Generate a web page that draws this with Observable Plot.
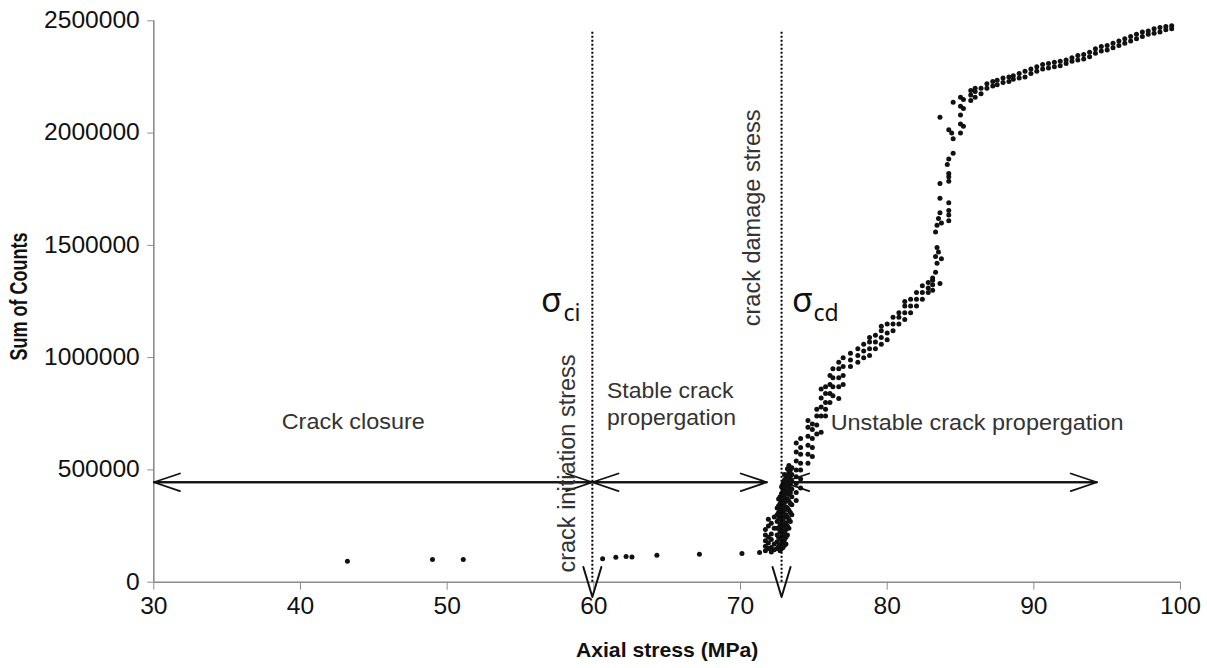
<!DOCTYPE html>
<html><head><meta charset="utf-8">
<script src="https://cdn.jsdelivr.net/npm/d3@7"></script>
<script src="https://cdn.jsdelivr.net/npm/@observablehq/plot@0.6"></script>
<style>body{margin:0;background:#fff} #chart svg{display:block}</style>
</head><body><div id="chart"></div>
<script>
// ---- data ----
const xTicks = [30, 40, 50, 60, 70, 80, 90, 100];
const yTicks = [0, 500000, 1000000, 1500000, 2000000, 2500000];
const xTitle = "Axial stress (MPa)";
const yTitle = "Sum of Counts";

// [axial stress (MPa), cumulative sum of counts]
const aePoints = [
 [43.2,93500],[49.0,101000],[51.1,101000],
 [60.6,104000],[61.5,111000],[62.2,114000],[62.6,112000],[64.3,120000],[67.2,124000],[70.1,128000],[71.3,132000],
 [71.7,140000],[71.7,160000],[71.7,185000],[71.7,210000],[71.7,235000],
 [71.9,150000],[71.9,175000],[71.9,200000],[71.9,250000],[71.9,280000],
 [72.1,135000],[72.1,155000],[72.1,190000],[72.1,215000],[72.1,262000],
 [72.3,145000],[72.3,170000],[72.3,240000],[72.3,290000],
 [72.5,150000],[72.5,180000],[72.5,210000],[72.5,240000],[72.5,270000],[72.5,300000],[72.5,330000],
 [72.6,160000],[72.6,200000],[72.6,240000],[72.6,280000],[72.6,310000],[72.6,340000],[72.6,370000],
 [72.7,140000],[72.7,165000],[72.7,195000],[72.7,225000],[72.7,255000],[72.7,290000],[72.7,320000],[72.7,350000],[72.7,380000],
 [72.8,150000],[72.8,175000],[72.8,205000],[72.8,235000],[72.8,265000],[72.8,300000],[72.8,330000],[72.8,360000],[72.8,395000],[72.8,425000],
 [72.9,155000],[72.9,185000],[72.9,215000],[72.9,250000],[72.9,280000],[72.9,310000],[72.9,345000],[72.9,375000],[72.9,410000],[72.9,440000],
 [73.0,165000],[73.0,190000],[73.0,225000],[73.0,255000],[73.0,290000],[73.0,320000],[73.0,355000],[73.0,385000],[73.0,420000],[73.0,455000],[73.0,480000],
 [73.1,170000],[73.1,200000],[73.1,235000],[73.1,265000],[73.1,300000],[73.1,335000],[73.1,365000],[73.1,400000],[73.1,430000],[73.1,470000],
 [73.2,210000],[73.2,250000],[73.2,290000],[73.2,330000],[73.2,370000],[73.2,405000],[73.2,440000],[73.2,475000],[73.2,505000],
 [73.3,240000],[73.3,280000],[73.3,320000],[73.3,360000],[73.3,390000],[73.3,420000],[73.3,455000],[73.3,490000],[73.3,520000],
 [73.4,270000],[73.4,310000],[73.4,350000],[73.4,400000],[73.4,435000],[73.4,470000],[73.4,500000],
 [73.5,300000],[73.5,345000],[73.5,380000],[73.5,415000],[73.5,450000],[73.5,480000],[73.5,510000],
 [73.8,364000],[73.8,400000],[73.8,440000],[73.8,470000],[73.8,500000],[73.8,540000],[73.8,580000],[73.8,620000],
 [74.1,420000],[74.1,460000],[74.1,500000],[74.1,530000],[74.1,570000],[74.1,600000],[74.1,640000],
 [74.6,530000],[74.6,570000],[74.6,610000],[74.6,650000],[74.6,690000],[74.6,720000],
 [74.9,560000],[74.9,600000],[74.9,640000],[74.9,680000],[74.9,705000],
 [75.2,660000],[75.2,700000],[75.2,740000],[75.2,770000],
 [75.5,668000],[75.5,740000],[75.5,780000],[75.5,820000],[75.5,860000],
 [75.8,740000],[75.8,770000],[75.8,800000],[75.8,840000],[75.8,870000],
 [76.1,800000],[76.1,840000],[76.1,880000],[76.1,920000],
 [76.3,830000],[76.3,870000],[76.3,910000],[76.3,950000],
 [76.7,818000],[76.7,870000],[76.7,910000],[76.7,950000],[76.7,980000],
 [77.0,880000],[77.0,920000],[77.0,960000],[77.0,1000000],
 [77.5,960000],[77.5,990000],[77.5,1020000],
 [78.0,980000],[78.0,1010000],[78.0,1040000],
 [78.4,1000000],[78.4,1030000],[78.4,1060000],
 [78.8,1010000],[78.8,1040000],[78.8,1070000],[78.8,1090000],
 [79.2,1040000],[79.2,1070000],[79.2,1100000],
 [79.6,1060000],[79.6,1090000],[79.6,1120000],[79.6,1140000],
 [80.0,1080000],[80.0,1110000],[80.0,1150000],
 [80.4,1120000],[80.4,1150000],[80.4,1180000],
 [80.8,1150000],[80.8,1180000],[80.8,1200000],
 [81.2,1170000],[81.2,1200000],[81.2,1230000],[81.2,1250000],
 [81.6,1200000],[81.6,1230000],[81.6,1260000],
 [82.0,1230000],[82.0,1260000],[82.0,1290000],
 [82.4,1260000],[82.4,1290000],[82.4,1320000],
 [82.8,1290000],[82.8,1310000],[82.8,1335000],
 [83.1,1300000],[83.1,1325000],[83.1,1345000],[83.1,1355000],
 [83.6,1330000],
 [83.3,1380000],[83.4,1420000],[83.3,1450000],[83.5,1470000],[83.4,1490000],[83.7,1440000],
 [83.3,1560000],[83.4,1590000],[83.5,1620000],[83.6,1645000],[83.7,1600000],
 [84.2,1610000],[84.2,1635000],[84.2,1655000],
 [83.6,1710000],[84.2,1690000],[83.6,1775000],[84.2,1785000],[84.2,1805000],[84.2,1820000],
 [84.1,1860000],[84.2,1885000],[84.5,1910000],[84.5,1975000],[84.4,2000000],[84.2,2015000],[83.6,2070000],[84.5,2137000],
 [85.0,2000000],[85.0,2040000],[85.0,2080000],[85.0,2120000],[85.0,2160000],
 [85.2,2030000],[85.2,2110000],[85.2,2150000],
 [85.7,2145000],[85.7,2170000],[85.7,2190000],
 [86.0,2160000],[86.0,2185000],[86.0,2200000],
 [86.4,2175000],[86.4,2200000],[86.8,2200000],[86.8,2220000],
 [87.2,2210000],[87.2,2230000],[87.5,2215000],[87.5,2235000],
 [87.9,2225000],[87.9,2245000],[88.3,2230000],[88.3,2250000],
 [88.6,2240000],[88.6,2255000],[89.0,2245000],[89.0,2265000],
 [89.4,2250000],[89.4,2275000],[89.8,2265000],[89.8,2285000],
 [90.2,2275000],[90.2,2295000],[90.6,2285000],[90.6,2305000],
 [91.0,2290000],[91.0,2310000],[91.4,2295000],[91.4,2315000],
 [91.8,2300000],[91.8,2320000],[92.2,2310000],[92.2,2325000],
 [92.6,2320000],[92.6,2335000],[93.0,2325000],[93.0,2345000],
 [93.4,2330000],[93.4,2350000],[93.8,2340000],[93.8,2360000],
 [94.2,2355000],[94.2,2375000],[94.6,2365000],[94.6,2385000],
 [95.0,2370000],[95.0,2390000],[95.4,2380000],[95.4,2400000],
 [95.8,2390000],[95.8,2410000],[96.2,2400000],[96.2,2420000],
 [96.6,2410000],[96.6,2430000],[97.0,2420000],[97.0,2440000],
 [97.4,2430000],[97.4,2450000],[97.8,2440000],[97.8,2455000],
 [98.2,2445000],[98.2,2465000],[98.6,2450000],[98.6,2470000],
 [99.0,2460000],[99.0,2475000],[99.4,2465000],[99.4,2478000]
];

// characteristic stresses (MPa)
const thresholdStress = [59.9, 72.8];
const thresholdTop = [2455000, 2450000];
const thresholdNames = ["crack initiation stress", "crack damage stress"];
const sigmaSubs = ["ci", "cd"];

// stage ranges (MPa) for the double arrows
const stageNames = ["Crack closure", "Stable crack\npropergation", "Unstable crack propergation"];
const stageFrom = [30, 59.9, 72.9];
const stageTo = [59.9, 71.8, 94.3];

// ---- annotation anchors (data units) ----
const arrowLevel = 445000;
const vTipLevel = -66000;
const stageLabelX = [43.6, 60.9, 76.15];
const stageLabelY = [680000, 702000, 679000];
const rotLabelX = [58.17, 70.8];
const rotLabelY = [43000, 1140000];
const sigmaX = [56.4, 73.52];
const sigmaSubX = [57.93, 74.97];
const sigmaY = 1202000, sigmaSubY = 1165000;

const thresholds = thresholdStress.map((s, i) => ({s, top: thresholdTop[i]}));
const arrows = stageFrom.flatMap((a, i) => [{a, b: stageTo[i]}, {a: stageTo[i], b: a}]);
const stageLabels = stageNames.map((t, i) => ({t, x: stageLabelX[i], y: stageLabelY[i]}));
const rotLabels = thresholdNames.map((t, i) => ({t, x: rotLabelX[i], y: rotLabelY[i]}));
const sigmas = sigmaSubs.map((sub, i) => ({sub, x: sigmaX[i], xs: sigmaSubX[i]}));

const sans = "'Liberation Sans', Arial, sans-serif";
const axisGray = "#8c8c8c";
const ink = "#111";
const textGray = "#333";

const vShape = {draw(ctx, l, r) { ctx.moveTo(-r, -l); ctx.lineTo(0, 0); ctx.lineTo(r, -l); }};

function build(useVector) {
  const stageText = {x: "x", y: "y", text: "t", lineAnchor: "bottom", lineHeight: 1.25, fontSize: 21.5, fill: textGray};
  const marks = [
    Plot.ruleY([0], {stroke: axisGray, strokeWidth: 1.6}),
    Plot.ruleX([30], {y1: 0, y2: 2500000, stroke: axisGray, strokeWidth: 1.6}),
    Plot.axisX({ticks: xTicks, tickSize: 8, tickPadding: 7, fontSize: 23, stroke: axisGray, fill: "#111", label: null, tickFormat: d => String(d)}),
    Plot.axisY({ticks: yTicks, tickSize: 6, tickPadding: 8, fontSize: 23, stroke: axisGray, fill: "#111", label: null, tickFormat: d => String(d)}),
    Plot.text([xTitle], {frameAnchor: "bottom", dy: 68, textAnchor: "middle", lineAnchor: "middle", fontSize: 20, fontWeight: "bold", fill: "#111"}),
    Plot.text([yTitle], {frameAnchor: "left", dx: -134, dy: -5, rotate: -90, textAnchor: "middle", lineAnchor: "middle", fontSize: 18, fontWeight: "bold", fill: "#111"}),
    Plot.dot(aePoints, {x: d => d[0], y: d => d[1], r: 2.5, fill: ink, stroke: "none"}),
    Plot.ruleX(thresholds, {x: "s", y1: 0, y2: "top", stroke: "#000", strokeWidth: 2, strokeDasharray: "2,2"}),
    Plot.arrow(arrows, {x1: "a", x2: "b", y1: arrowLevel, y2: arrowLevel, stroke: ink, strokeWidth: 1.8, headAngle: 37, headLength: 23}),
    Plot.text(stageLabels.slice(0, 1), {...stageText, textAnchor: "middle"}),
    Plot.text(stageLabels.slice(1), {...stageText, textAnchor: "start"}),
    Plot.text(rotLabels, {x: "x", y: "y", text: "t", rotate: -90, textAnchor: "start", lineAnchor: "middle", fontSize: 23.5, fill: textGray}),
    Plot.text(sigmas, {x: "x", y: sigmaY, text: () => "σ", textAnchor: "start", lineAnchor: "bottom", fontSize: 34, fontFamily: "'Noto Sans', sans-serif", fill: ink}),
    Plot.text(sigmas, {x: "xs", y: sigmaSubY, text: "sub", textAnchor: "start", lineAnchor: "bottom", fontSize: 23, fontFamily: "'Noto Sans', sans-serif", fill: ink})
  ];
  if (useVector) {
    marks.push(Plot.vector(thresholds, {x: "s", y: vTipLevel, length: 30, r: 9, anchor: "start", shape: vShape, stroke: ink, strokeWidth: 2, fill: "none"}));
  }
  return Plot.plot({
    width: 1207, height: 668,
    marginLeft: 153.3, marginRight: 27, marginTop: 20.3, marginBottom: 86.3,
    x: {domain: [30, 100]},
    y: {domain: [0, 2500000]},
    style: {fontFamily: sans, background: "#fff", color: "#111", overflow: "visible"},
    marks
  });
}

let svg;
try { svg = build(true); } catch (e) { svg = build(false); }

// slight horizontal stretch of the chart's Arial text, as in the reference picture
const stretchFor = txt => (txt === xTitle ? 1.06 : stageNames.includes(txt) || txt === "Stable crack" || txt === "propergation" ? 1.09 : 1.07);
svg.querySelectorAll("text").forEach(t => {
  const tr = t.getAttribute("transform") || "";
  const txt = t.textContent;
  if (!tr || txt === "σ" || sigmaSubs.includes(txt) || thresholdNames.includes(txt)) return;
  if (tr.includes("rotate")) t.setAttribute("transform", tr + ` scale(1,1.3)`);
  else t.setAttribute("transform", tr + ` scale(${stretchFor(txt)},1)`);
});
document.getElementById("chart").appendChild(svg);
</script></body></html>
